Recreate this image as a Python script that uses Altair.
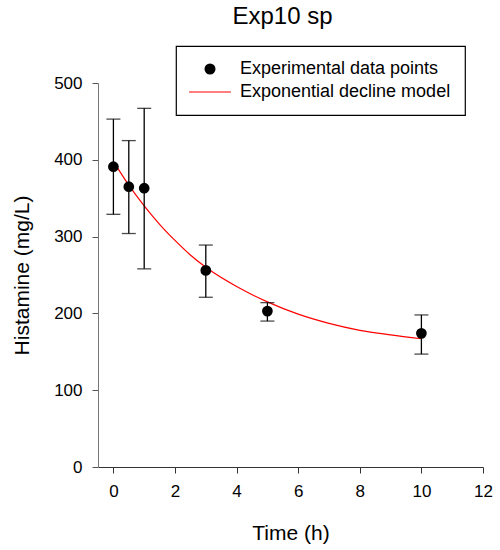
import altair as alt
import pandas as pd

time_h = [0, 0.5, 1, 3, 5, 10]
histamine = [391, 365, 363, 256, 203, 174]
err_hi = [453, 425, 467, 289, 214, 198]
err_lo = [329, 304, 258, 221, 190, 147]

# Model curve
model_t = [0, 0.5, 1, 1.5, 2, 2.5, 3, 4, 5, 6, 7, 8, 9, 10]
model_y = [398, 367, 340, 316, 295, 276, 260, 235, 215, 199, 187, 178, 172, 167]

series_names = ["Experimental data points", "Exponential decline model"]

pts = pd.DataFrame({"t": time_h, "y": histamine, "hi": err_hi, "lo": err_lo,
                    "series": series_names[0]})
mdl = pd.DataFrame({"t": model_t, "y": model_y, "series": series_names[1]})

xscale = alt.Scale(domain=[-0.5, 12], nice=False, zero=False)
yscale = alt.Scale(domain=[0, 500], nice=False)

xaxis = alt.Axis(title="Time (h)", values=[0, 2, 4, 6, 8, 10, 12], tickSize=6,
                 labelFontSize=17, titleFontSize=21, labelPadding=10, titlePadding=23,
                 domainColor="#333333", tickColor="#333333", grid=False,
                 labelFlush=False, labelOverlap=False)
yaxis = alt.Axis(title="Histamine (mg/L)", values=[0, 100, 200, 300, 400, 500], tickSize=6,
                 labelFontSize=17, titleFontSize=21, labelPadding=10, titlePadding=21,
                 domainColor="#777777", tickColor="#555555", grid=False,
                 labelFlush=False, labelOverlap=False)

color_scale = alt.Scale(domain=series_names, range=["black", "red"])
shape_scale = alt.Scale(domain=series_names,
                        range=["circle", "M-3.8,-0.1L3.8,-0.1L3.8,0.1L-3.8,0.1Z"])

legend = alt.Legend(title=None, orient="none", legendX=78, legendY=-37,
                    strokeColor="black", padding=14,
                    symbolOffset=11, labelOffset=21, labelFontSize=18,
                    rowPadding=5, symbolSize=121, labelLimit=400,
                    symbolStrokeWidth=0, symbolOpacity=1)

line = alt.Chart(mdl).mark_line(strokeWidth=1.2, interpolate="monotone").encode(
    x=alt.X("t:Q", scale=xscale, axis=xaxis),
    y=alt.Y("y:Q", scale=yscale, axis=yaxis),
    color=alt.Color("series:N", scale=color_scale, legend=legend),
)

rule = alt.Chart(pts).mark_rule(color="black", strokeWidth=1.3).encode(
    x="t:Q", y="lo:Q", y2="hi:Q"
)
cap_hi = alt.Chart(pts).mark_tick(color="black", orient="horizontal", size=14,
                                  thickness=1.3).encode(x="t:Q", y="hi:Q")
cap_lo = alt.Chart(pts).mark_tick(color="black", orient="horizontal", size=14,
                                  thickness=1.3).encode(x="t:Q", y="lo:Q")

points = alt.Chart(pts).mark_point(filled=True, size=115, opacity=1).encode(
    x="t:Q", y="y:Q",
    color=alt.Color("series:N", scale=color_scale, legend=legend),
    shape=alt.Shape("series:N", scale=shape_scale, legend=legend),
)

chart = alt.layer(line, rule, cap_hi, cap_lo, points).properties(
    width=385, height=384,
    title=alt.Title("Exp10 sp", fontSize=24, fontWeight="normal", offset=-3,
                    baseline="alphabetic", dx=-8, color="black"),
    autosize=alt.AutoSizeParams(type="none"),
    padding={"left": 98, "top": 83, "right": 17, "bottom": 83},
).configure(font="Liberation Sans").configure_view(stroke=None).configure_axis(
    labelColor="black", titleColor="black", titleFontWeight="normal"
).configure_legend(labelColor="black", strokeWidth=1.2)

chart.save("out.html", embed_options={"renderer": "svg", "actions": False})
